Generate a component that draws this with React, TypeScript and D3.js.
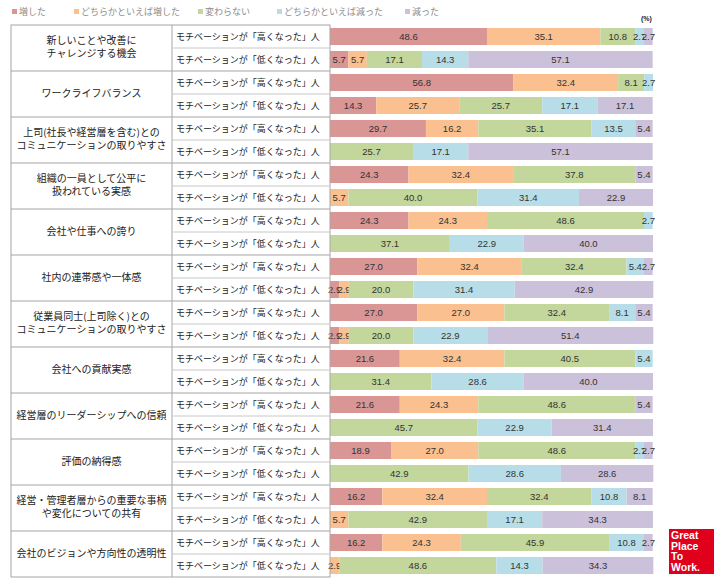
import React from "react";
import * as d3 from "d3";

const categories = [
  "新しいことや改善に\nチャレンジする機会",
  "ワークライフバランス",
  "上司(社長や経営層を含む)との\nコミュニケーションの取りやすさ",
  "組織の一員として公平に\n扱われている実感",
  "会社や仕事への誇り",
  "社内の連帯感や一体感",
  "従業員同士(上司除く)との\nコミュニケーションの取りやすさ",
  "会社への貢献実感",
  "経営層のリーダーシップへの信頼",
  "評価の納得感",
  "経営・管理者層からの重要な事柄\nや変化についての共有",
  "会社のビジョンや方向性の透明性",
];

const rowLabels = ["モチベーションが「高くなった」人", "モチベーションが「低くなった」人"];

const seriesNames = ["増した", "どちらかといえば増した", "変わらない", "どちらかといえば減った", "減った"];
const colors = ["#d99694", "#fac090", "#c3d69b", "#b7dee8", "#ccc1da"];

// each entry: [増した, どちらかといえば増した, 変わらない, どちらかといえば減った, 減った]
const highValues = [
  [48.6, 35.1, 10.8, 2.7, 2.7],
  [56.8, 32.4, 8.1, 2.7, 0],
  [29.7, 16.2, 35.1, 13.5, 5.4],
  [24.3, 32.4, 37.8, 0, 5.4],
  [24.3, 24.3, 48.6, 2.7, 0],
  [27.0, 32.4, 32.4, 5.4, 2.7],
  [27.0, 27.0, 32.4, 8.1, 5.4],
  [21.6, 32.4, 40.5, 5.4, 0],
  [21.6, 24.3, 48.6, 0, 5.4],
  [18.9, 27.0, 48.6, 2.7, 2.7],
  [16.2, 32.4, 32.4, 10.8, 8.1],
  [16.2, 24.3, 45.9, 10.8, 2.7],
];

const lowValues = [
  [5.7, 5.7, 17.1, 14.3, 57.1],
  [14.3, 25.7, 25.7, 17.1, 17.1],
  [0, 0, 25.7, 17.1, 57.1],
  [0, 5.7, 40.0, 31.4, 22.9],
  [0, 0, 37.1, 22.9, 40.0],
  [2.9, 2.9, 20.0, 31.4, 42.9],
  [2.9, 2.9, 20.0, 22.9, 51.4],
  [0, 0, 31.4, 28.6, 40.0],
  [0, 0, 45.7, 22.9, 31.4],
  [0, 0, 42.9, 28.6, 28.6],
  [0, 5.7, 42.9, 17.1, 34.3],
  [0, 2.9, 48.6, 14.3, 34.3],
];

const W = 725;
const H = 583;
const tableLeft = 11;
const col1 = 172;
const col2 = 330;
const tableTop = 25;
const tableBottom = 577;
const barRight = 653;

const jp = "'Noto Sans CJK JP', 'Noto Sans', sans-serif";

export default function App() {
  const rows = categories.flatMap((c, i) => [
    { key: `${i}-h`, group: i, sub: 0, values: highValues[i] },
    { key: `${i}-l`, group: i, sub: 1, values: lowValues[i] },
  ]);

  const y = d3
    .scaleBand<string>()
    .domain(rows.map((r) => r.key))
    .range([tableTop, tableBottom])
    .paddingInner(0.26)
    .paddingOuter(0.13);
  const step = y.step();
  const x = d3.scaleLinear().domain([0, 100]).range([col2, barRight]);

  const stacked = rows.map((r) => {
    const cum = d3.cumsum(r.values);
    return r.values.map((v, j) => ({ v, j, x0: cum[j] - v, x1: cum[j] }));
  });

  const groupTop = (g: number) => tableTop + g * step * 2;
  const lineColor = "#a6a6a6";

  const legendX = [12, 74, 198, 277, 405];

  return (
    <svg
      width={W}
      height={H}
      style={{ position: "absolute", left: 0, top: 0, background: "#fff" }}
    >
      {/* legend */}
      {seriesNames.map((s, i) => (
        <g key={s} transform={`translate(${legendX[i]},12)`}>
          <rect x={0} y={-3} width={5} height={5} fill={colors[i]} />
          <text x={7} y={0} dy="0.35em" fontSize={9} fill="#8c8c8c" fontFamily={jp}>
            {s}
          </text>
        </g>
      ))}
      <text x={641} y={19} dy="0.35em" fontSize={7} fontWeight="bold" fill="#222" fontFamily="'Liberation Sans', sans-serif">
        (%)
      </text>

      {/* bars */}
      {rows.map((r, i) => (
        <g key={r.key}>
          {stacked[i]
            .filter((d) => d.v > 0)
            .map((d) => (
              <g key={d.j}>
                <rect
                  x={x(d.x0)}
                  y={y(r.key)}
                  width={x(d.x1) - x(d.x0)}
                  height={y.bandwidth()}
                  fill={colors[d.j]}
                />
                <text
                  x={(x(d.x0) + x(d.x1)) / 2}
                  y={(y(r.key) as number) + y.bandwidth() / 2}
                  dy="0.35em"
                  textAnchor="middle"
                  fontSize={9.5}
                  fill="#333"
                  fontFamily="'Liberation Sans', Arial, sans-serif"
                >
                  {d.v.toFixed(1)}
                </text>
              </g>
            ))}
        </g>
      ))}

      {/* table grid */}
      <g stroke={lineColor} strokeWidth={1} fill="none">
        <rect x={tableLeft} y={tableTop} width={col2 - tableLeft} height={tableBottom - tableTop} />
        <line x1={col1} x2={col1} y1={tableTop} y2={tableBottom} />
        {categories.map((c, g) =>
          g > 0 ? (
            <line key={`g${g}`} x1={tableLeft} x2={col2} y1={groupTop(g)} y2={groupTop(g)} />
          ) : null
        )}
        {categories.map((c, g) => (
          <line key={`s${g}`} x1={col1} x2={col2} y1={groupTop(g) + step} y2={groupTop(g) + step} stroke="#c8c8c8" />
        ))}
      </g>

      {/* category labels */}
      {categories.map((c, g) => {
        const lines = c.split("\n");
        const cy = groupTop(g) + step - 1;
        return (
          <text
            key={c}
            x={(tableLeft + col1) / 2}
            textAnchor="middle"
            fontSize={10}
            fill="#222"
            fontFamily={jp}
          >
            {lines.map((l, k) => (
              <tspan key={k} x={(tableLeft + col1) / 2} y={cy + (k - (lines.length - 1) / 2) * 13} dy="0.35em">
                {l}
              </tspan>
            ))}
          </text>
        );
      })}

      {/* row labels */}
      {rows.map((r) => (
        <text
          key={r.key}
          x={col1 + 4}
          y={groupTop(r.group) + step * r.sub + step / 2}
          dy="0.35em"
          fontSize={9}
          fill="#222"
          fontFamily={jp}
        >
          {rowLabels[r.sub]}
        </text>
      ))}

      {/* logo */}
      <g transform="translate(669,529)">
        <rect width={45} height={45} fill="#e0001b" />
        {["Great", "Place", "To", "Work."].map((t, k) => (
          <text
            key={t}
            x={2}
            y={10 + k * 10.5}
            fontSize={10.5}
            fontWeight="bold"
            fill="#fff"
            fontFamily="'Liberation Sans', Arial, sans-serif"
          >
            {t}
          </text>
        ))}
      </g>
    </svg>
  );
}
